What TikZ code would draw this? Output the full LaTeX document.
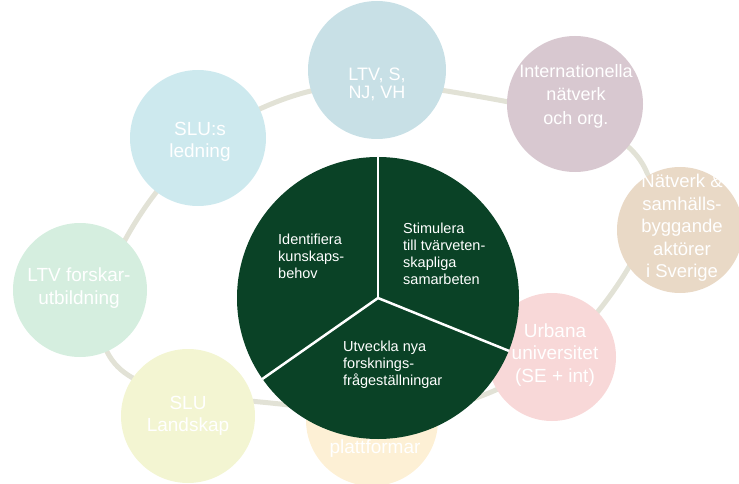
\documentclass[tikz,border=0pt]{standalone}
\usepackage{fontspec}
\setmainfont{Liberation Sans}
\definecolor{dkgreen}{RGB}{10,66,38}
\definecolor{ringc}{RGB}{226,226,214}
\definecolor{cLTV}{RGB}{200,224,230}
\definecolor{cSLUs}{RGB}{205,233,238}
\definecolor{cIntl}{RGB}{216,200,208}
\definecolor{cNat}{RGB}{233,217,198}
\definecolor{cUrb}{RGB}{248,216,216}
\definecolor{cPlat}{RGB}{253,240,213}
\definecolor{cLand}{RGB}{243,245,210}
\definecolor{cFors}{RGB}{213,238,223}
\tikzset{
  outer/.style={circle, draw=none, inner sep=0pt},
  outtext/.style={text=white, align=center, font=\fontsize{19}{22.5}\selectfont, inner sep=0pt},
  intext/.style={text=white, align=left, font=\fontsize{14.5}{16.8}\selectfont, inner sep=0pt, anchor=north west},
  ringline/.style={draw=ringc, line width=5pt},
  divider/.style={draw=white, line width=2.5pt}
}
\begin{document}
\begin{tikzpicture}[x=1pt,y=-1pt]
\useasboundingbox (0,0) rectangle (739,484);
% ring
\coordinate (r1) at (112,360);
\coordinate (r2) at (142,212);
\coordinate (r3) at (287,98);
\coordinate (r4) at (476,96);
\coordinate (r5) at (640,160);
\coordinate (r6) at (612,293);
\coordinate (r7) at (470,400);
\coordinate (r8) at (280,404);
\draw[ringline] plot[smooth cycle, tension=0.7] coordinates {(r1) (r2) (r3) (r4) (r5) (r6) (r7) (r8)};
% outer circles
\node[outer, fill=cLTV, minimum size=138pt] (cLTV) at (377,70) {};
\node[outer, fill=cSLUs, minimum size=136pt] (cSLUs) at (198,138) {};
\node[outer, fill=cIntl, minimum size=136pt] (cIntl) at (575,104) {};
\node[outer, fill=cNat, minimum size=126pt] (cNat) at (680,230) {};
\node[outer, fill=cUrb, minimum size=128pt] (cUrb) at (552,357) {};
\node[outer, fill=cPlat, minimum size=132pt] (cPlat) at (372,420) {};
\node[outer, fill=cLand, minimum size=134pt] (cLand) at (188,416) {};
\node[outer, fill=cFors, minimum size=134pt] (cFors) at (80,290) {};
% outer texts
\node[outtext, font=\fontsize{18}{18}\selectfont] (tLTV) at (377,84) {LTV, S,\\NJ, VH};
\node[outtext] (tSLUs) at (200,142) {SLU:s\\ledning};
\node[outtext, font=\fontsize{18}{23.5}\selectfont] (tIntl) at (576,96) {Internationella\\nätverk\\och org.};
\node[outtext, font=\fontsize{18.5}{22.5}\selectfont] (tNat) at (682,228) {Nätverk \&\\samhälls-\\byggande\\aktörer\\i Sverige};
\node[outtext] (tUrb) at (555,355) {Urbana\\universitet\\(SE + int)};
\node[outtext] (tPlat) at (375,449) {plattformar};
\node[outtext] (tLand) at (188,416) {SLU\\Landskap};
\node[outtext] (tFors) at (79,288) {LTV forskar-\\utbildning};
% central circle
\node[circle, fill=dkgreen, minimum size=282pt, inner sep=0pt] (g) at (378,298) {};
\draw[divider] (g.center) -- (g.90);
\draw[divider] (g.center) -- (g.215);
\draw[divider] (g.center) -- (g.-22.5);
\node[intext] (i1) at (278,234) {Identifiera\\kunskaps-\\behov};
\node[intext] (i2) at (403,223) {Stimulera\\till tvärveten-\\skapliga\\samarbeten};
\node[intext] (i3) at (343,341) {Utveckla nya\\forsknings-\\frågeställningar};
\end{tikzpicture}
\end{document}
